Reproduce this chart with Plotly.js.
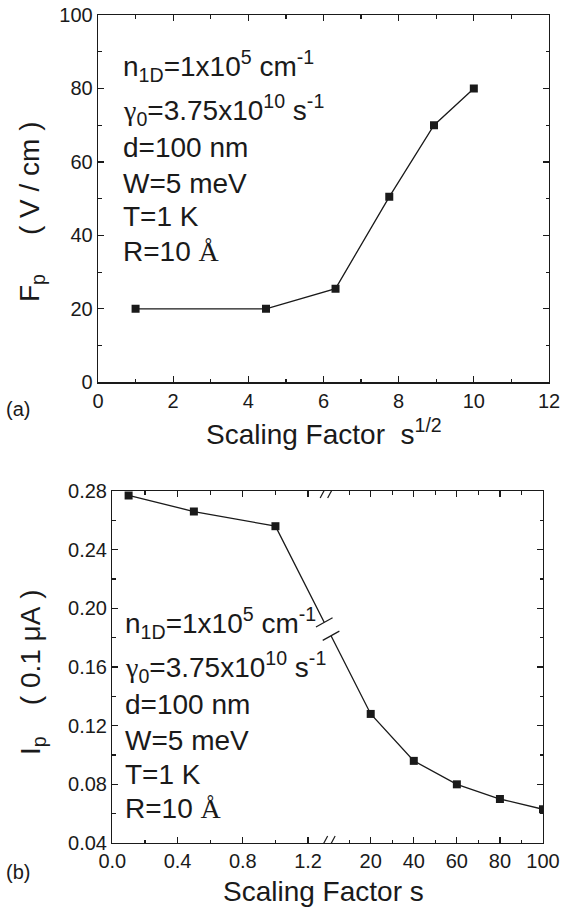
<!DOCTYPE html>
<html><head><meta charset="utf-8">
<script src="https://cdn.plot.ly/plotly-3.0.1.min.js"></script>
<style>html,body{margin:0;padding:0;background:#fff}</style>
</head><body><div id="chart" style="width:574px;height:907px"></div>
<script>
// ---- Panel (a) data ----
const sqrtS = [1, 4.47, 6.32, 7.75, 8.94, 10];
const Fp = [20, 20, 25.5, 50.5, 70, 80];
// ---- Panel (b) data ----
const sLow = [0.1, 0.5, 1.0];
const IpLow = [0.277, 0.266, 0.256];
const sHigh = [20, 40, 60, 80, 100];
const IpHigh = [0.128, 0.096, 0.080, 0.070, 0.063];
// ---- tick labels ----
const lowTicks = [0.0, 0.4, 0.8, 1.2];
const lowMinor = [0.2, 0.6, 1.0];
const highTicks = [20, 40, 60, 80, 100];
const highMinor = [10, 30, 50, 70, 90];
const paramLines = [
  "n<sub>1D</sub>=1x10<sup>5</sup> cm<sup>-1</sup>",
  "<span style='font-family:Liberation Serif'>γ</span><sub>0</sub>=3.75x10<sup>10</sup> s<sup>-1</sup>",
  "d=100 nm",
  "W=5 meV",
  "T=1 K",
  "R=10 <span style='font-family:Liberation Serif'>Å</span>"
];

const W = 574, H = 907;
const FONT = "Liberation Sans, Arial, sans-serif";
const INK = "#1a1a1a";
const px = x => x / W;
const py = y => 1 - y / H;

// broken axis mapping for panel (b)
const BRK = 1.32, HIGH_MAX = 100;
const posLow = s => s;
const posHigh = s => BRK + s / HIGH_MAX * BRK;

const xb = sLow.map(posLow).concat(sHigh.map(posHigh));
const yb = IpLow.concat(IpHigh);

const dom = {
  ax: [px(98), px(549)], ay: [py(382.3), py(15)],
  bx: [px(112.3), px(543)], by: [py(843), py(491)]
};

const lineStyle = {color: INK, width: 1.3};
const markerStyle = {symbol: 'square', size: 8, color: INK};

const traces = [
  {x: sqrtS, y: Fp, xaxis: 'x', yaxis: 'y', mode: 'lines+markers', line: lineStyle, marker: markerStyle, showlegend: false},
  {x: xb, y: yb, xaxis: 'x2', yaxis: 'y2', mode: 'lines+markers', line: lineStyle, marker: markerStyle, showlegend: false}
];

const axBase = {
  showline: true, linecolor: INK, linewidth: 1.3, mirror: 'allticks',
  ticks: 'inside', ticklen: 6, tickwidth: 1.2, tickcolor: INK,
  showgrid: false, zeroline: false,
  tickfont: {family: FONT, size: 20, color: INK},
  fixedrange: true
};
const minorBase = {ticks: 'inside', ticklen: 3.5, tickwidth: 1.2, tickcolor: INK, showgrid: false};

const layout = {
  width: W, height: H,
  margin: {l: 0, r: 0, t: 0, b: 0},
  paper_bgcolor: '#fff', plot_bgcolor: '#fff',
  showlegend: false,
  xaxis: Object.assign({}, axBase, {domain: dom.ax, anchor: 'y', range: [0, 12], dtick: 2, tick0: 0,
    minor: Object.assign({}, minorBase, {dtick: 1})}),
  yaxis: Object.assign({}, axBase, {domain: dom.ay, anchor: 'x', range: [0, 100], dtick: 20, tick0: 0,
    minor: Object.assign({}, minorBase, {dtick: 10})}),
  xaxis2: Object.assign({}, axBase, {domain: dom.bx, anchor: 'y2', range: [0, 2 * BRK],
    tickmode: 'array',
    tickvals: lowTicks.map(posLow).concat(highTicks.map(posHigh)),
    ticktext: lowTicks.map(v => v.toFixed(1)).concat(highTicks.map(String)),
    minor: Object.assign({}, minorBase, {tickmode: 'array', tickvals: lowMinor.map(posLow).concat(highMinor.map(posHigh))})}),
  yaxis2: Object.assign({}, axBase, {domain: dom.by, anchor: 'x2', range: [0.04, 0.28], dtick: 0.04, tick0: 0.04,
    tickformat: '.2f', minor: Object.assign({}, minorBase, {dtick: 0.02})}),
  annotations: [],
  shapes: []
};

// parameter text blocks
const lineOffsets = [0, 44, 81, 117, 151, 185];
function addParams(x0, baseline) {
  paramLines.forEach((t, i) => {
    layout.annotations.push({
      xref: 'paper', yref: 'paper', x: px(x0), y: py(baseline + lineOffsets[i] - 10),
      xanchor: 'left', yanchor: 'middle', showarrow: false, text: t,
      font: {family: FONT, size: 28, color: INK}
    });
  });
}
addParams(121, 76);
addParams(123, 633);

const titleFont = {family: FONT, size: 28, color: INK};
const NB = '\u00A0';
layout.annotations.push(
  {xref: 'paper', yref: 'paper', x: px(324), y: py(432), xanchor: 'center', yanchor: 'middle', showarrow: false,
   text: 'Scaling Factor' + NB + NB + 's<sup>1/2</sup>', font: titleFont},
  {xref: 'paper', yref: 'paper', x: px(323.5), y: py(891), xanchor: 'center', yanchor: 'middle', showarrow: false,
   text: 'Scaling Factor s', font: titleFont},
  {xref: 'paper', yref: 'paper', x: px(32), y: py(212), xanchor: 'center', yanchor: 'middle', showarrow: false, textangle: -90,
   text: 'F<sub>p</sub>' + NB.repeat(5) + '(' + NB + 'V / cm' + NB + ')', font: titleFont},
  {xref: 'paper', yref: 'paper', x: px(32), y: py(672), xanchor: 'center', yanchor: 'middle', showarrow: false, textangle: -90,
   text: 'I<sub>p</sub>' + NB.repeat(4) + '(' + NB + '0.1 μA' + NB + ')', font: titleFont},
  {xref: 'paper', yref: 'paper', x: px(4), y: py(409), xanchor: 'left', yanchor: 'middle', showarrow: false,
   text: '(a)', font: {family: FONT, size: 20, color: INK}},
  {xref: 'paper', yref: 'paper', x: px(4), y: py(872), xanchor: 'left', yanchor: 'middle', showarrow: false,
   text: '(b)', font: {family: FONT, size: 20, color: INK}}
);

// break marks (decoration), anchored at the break position using pixel offsets
function pixSeg(xa, ya, x0, y0, x1, y1, color, width) {
  return {type: 'line', xref: 'x2', yref: 'y2', xsizemode: 'pixel', ysizemode: 'pixel',
    xanchor: xa, yanchor: ya, x0: x0, y0: y0, x1: x1, y1: y1,
    line: {color: color, width: width}, layer: 'above'};
}
[0.28, 0.04].forEach(yv => {
  layout.shapes.push(pixSeg(BRK, yv, -3.8, 0, 3.8, 0, '#fff', 4));
  layout.shapes.push(pixSeg(BRK, yv, -7.5, -7, 0, 7, INK, 1.2));
  layout.shapes.push(pixSeg(BRK, yv, 0, -7, 7.5, 7, INK, 1.2));
});
// break on the data line between last low point and first high point
(function () {
  const xA = posLow(sLow[sLow.length - 1]), yA = IpLow[IpLow.length - 1];
  const xB = posHigh(sHigh[0]), yB = IpHigh[0];
  const t = (BRK - xA) / (xB - xA);
  const yBrk = yA + t * (yB - yA);
  const pxPerX = (dom.bx[1] - dom.bx[0]) * W / (2 * BRK);
  const pxPerY = (dom.by[1] - dom.by[0]) * H / (0.28 - 0.04);
  let dx = (xB - xA) * pxPerX, dy = (yB - yA) * pxPerY;
  const L = Math.hypot(dx, dy); dx /= L; dy /= L;
  const g = 7.5;
  layout.shapes.push(pixSeg(BRK, yBrk, -g * dx, -g * dy, g * dx, g * dy, '#fff', 5));
  const mx = 0.874, my = 0.486, h = 9.5;
  [-g, g].forEach(o => {
    const cx = o * dx, cy = o * dy;
    layout.shapes.push(pixSeg(BRK, yBrk, cx - h * mx, cy - h * my, cx + h * mx, cy + h * my, INK, 1.2));
  });
})();

Plotly.newPlot('chart', traces, layout, {displayModeBar: false, staticPlot: true});
</script></body></html>
